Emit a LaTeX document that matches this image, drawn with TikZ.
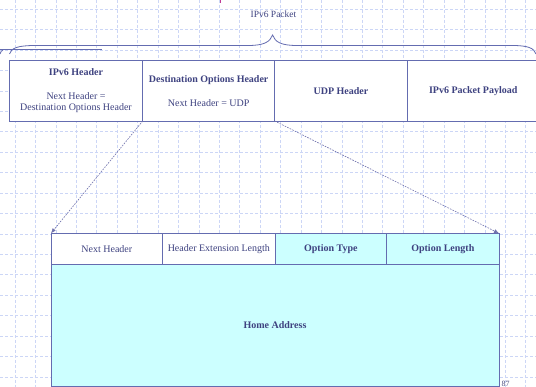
\documentclass[tikz,border=0pt]{standalone}
\usepackage{fontspec}
\setmainfont{Liberation Serif}
\usetikzlibrary{arrows.meta}
\definecolor{linec}{RGB}{100,108,176}
\definecolor{textc}{RGB}{62,66,128}
\definecolor{gridc}{RGB}{204,214,246}
\definecolor{cyanf}{RGB}{204,255,255}
\definecolor{connc}{RGB}{110,112,172}
\definecolor{tickc}{RGB}{190,60,150}
\tikzset{
  cell/.style={draw=linec, line width=0.9pt, fill=white, inner sep=0pt, outer sep=0pt,
     text=textc, align=center, font=\fontsize{10}{11.7}\selectfont},
  cyancell/.style={cell, fill=cyanf},
  gridline/.style={gridc, line width=0.6pt, dash pattern=on 3pt off 2pt},
  conn/.style={connc, line width=0.6pt, dash pattern=on 1.6pt off 1.2pt, -{Latex[length=5pt,width=4pt]}},
  bracec/.style={linec, line width=0.8pt}
}
\begin{document}
\begin{tikzpicture}[x=1pt,y=-1pt]
\useasboundingbox (0,0) rectangle (536,387);
\fill[white] (0,0) rectangle (536,387);
% grid
\foreach \k in {0,...,25} { \draw[gridline] ({15+20.43*\k},0) -- ({15+20.43*\k},387); }
\foreach \k in {0,...,18} { \draw[gridline] (0,{9.1+20.43*\k}) -- (536,{9.1+20.43*\k}); }
% magenta tick
\draw[tickc, line width=0.6pt] (220.5,0) -- (220.5,3.5);
% label
\node[text=textc, font=\fontsize{9.5}{11}\selectfont] (pkt) at (273.5,14) {IPv6 Packet};
% brace
\draw[bracec] (9.5,54) .. controls (11,48) and (18,45.5) .. (35,45.5) -- (248,45.5)
  .. controls (264,45.5) and (270,42) .. (272.6,35)
  .. controls (275,42) and (281,45.5) .. (297,45.5) -- (512,45.5)
  .. controls (528,45.5) and (534,48) .. (536,54);
% stray line at left
\draw[bracec] (0,49.3) -- (101.5,49.3);
\draw[bracec] (0,54) .. controls (0.6,52) and (1.5,50.5) .. (3,50);
% top packet
\node[cell, minimum width=133.4pt, minimum height=60.3pt] (c1) at (76,90.85)
  {\textbf{IPv6 Header}\\[11.8pt]Next Header =\\Destination Options Header};
\node[cell, minimum width=132pt, minimum height=60.3pt] (c2) at (208.7,90.85)
  {\textbf{Destination Options Header}\\[11.8pt]Next Header = UDP};
\node[cell, minimum width=132.6pt, minimum height=60.3pt] (c3) at (341,90.85)
  {\textbf{UDP Header}};
\node[cell, minimum width=131.7pt, minimum height=60.3pt] (c4) at (473.2,90.85)
  {\textbf{IPv6 Packet Payload}};
% lower option
\node[cell, minimum width=111.7pt, minimum height=30.7pt] (l1) at (106.85,248.65) {Next Header};
\node[cell, minimum width=112.3pt, minimum height=30.7pt] (l2) at (218.85,248.65) {Header Extension Length};
\node[cyancell, minimum width=111.7pt, minimum height=30.7pt] (l3) at (330.85,248.65) {\textbf{Option Type}};
\node[cyancell, minimum width=112.3pt, minimum height=30.7pt] (l4) at (442.85,248.65) {\textbf{Option Length}};
\node[cyancell, minimum width=448pt, minimum height=122pt] (home) at (275,325) {\textbf{Home Address}};
% connectors
\draw[conn] (c1.south east) -- (l1.north west);
\draw[conn] (c2.south east) -- (l4.north east);
% page number
\node[text=textc!80!gray, font=\fontsize{8}{9}\selectfont, anchor=south west, inner sep=0pt] (pg) at (501.5,386.5) {87};
\end{tikzpicture}
\end{document}
